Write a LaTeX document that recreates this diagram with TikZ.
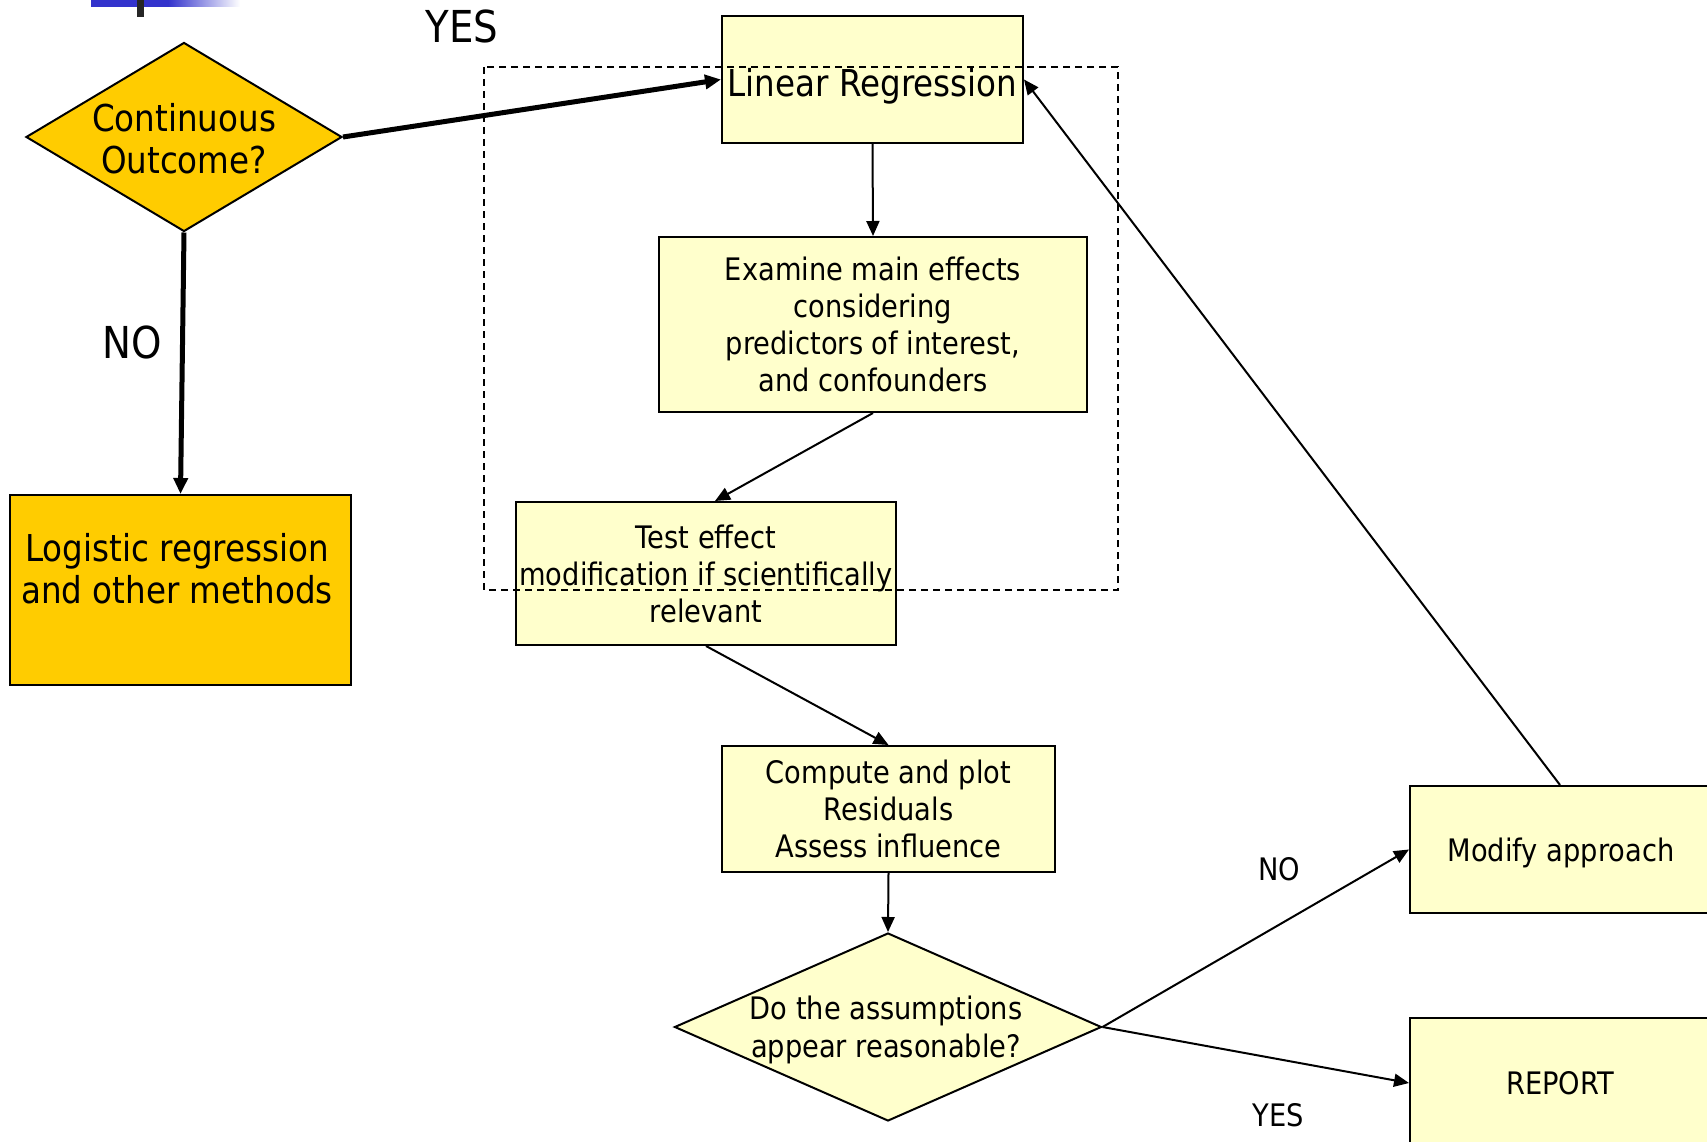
\documentclass[tikz,border=0pt]{standalone}
\usepackage{fontspec}
\setmainfont{DejaVu Sans}[FakeStretch=0.88]
\usetikzlibrary{shapes.geometric,arrows.meta}

\definecolor{gold}{HTML}{FFCC00}
\definecolor{paleyellow}{HTML}{FFFFCC}
\definecolor{barblue}{HTML}{3333CC}

\tikzset{
  box/.style={draw, line width=2pt, fill=paleyellow, align=center, inner sep=0pt,
    font=\fontsize{31}{37}\selectfont},
  dia/.style={draw, diamond, line width=2pt, inner sep=0pt},
  arr/.style={line width=2pt, -{Triangle[length=15pt,width=13pt]}},
  fat/.style={line width=5pt, -{Triangle[length=16pt,width=14pt]}},
  bigtxt/.style={font=\fontsize{37}{42}\selectfont, align=center},
  midtxt/.style={font=\fontsize{31}{38}\selectfont, align=center},
  hugetxt/.style={font=\fontsize{44}{50}\selectfont},
}

\begin{document}
\begin{tikzpicture}[x=1pt, y=-1pt]
  \useasboundingbox (0,0) rectangle (1707,1142);

  % Title bar
  \fill [barblue] (91,0) rectangle (168,7);
  \shade [left color=barblue, right color=white] (168,0) rectangle (240,7);
  \fill [black!85] (137,0) rectangle (144,17);

  % First decision
  \node [dia, fill=gold, minimum width=316, minimum height=189] (cont) at (184,137) {};
  \node [bigtxt] (conttxt) at (184,139) {Continuous\\Outcome?};
  \node [draw, line width=2pt, fill=gold, minimum width=341, minimum height=190] (logit) at (180.5,590) {};
  \node [bigtxt] (logittxt) at (177,569) {Logistic regression\\and other methods};

  % Linear model steps
  \node [box, minimum width=301, minimum height=127] (linreg) at (872.5,79.5) {};
  \node [bigtxt] (linregtxt) at (872.5,86) {Linear Regression};
  \node [box, minimum width=428, minimum height=175] (exam) at (873,324.5) {Examine main effects\\considering\\predictors of interest,\\and confounders};
  \node [box, minimum width=380, minimum height=143] (test) at (706,573.5) {Test effect\\modification if scientifically\\relevant};
  \node [box, minimum width=333, minimum height=126] (comp) at (888.5,809) {Compute and plot\\Residuals\\Assess influence};

  % Second decision
  \node [dia, fill=paleyellow, minimum width=427, minimum height=188] (assume) at (888,1027) {};
  \node [midtxt] (assumetxt) at (886,1030) {Do the assumptions\\appear reasonable?};
  \node [box, minimum width=300, minimum height=127] (modify) at (1560,849.5) {};
  \node [midtxt] (modifytxt) at (1561,853) {Modify approach};
  \node [box, minimum width=300, minimum height=130] (report) at (1560,1083) {REPORT};

  % Labels
  \node [hugetxt] (yestop) at (462,26) {YES};
  \node [hugetxt] (noleft) at (132,342) {NO};
  \node [midtxt] (noright) at (1279,869) {NO};
  \node [midtxt] (yesbottom) at (1278,1115) {YES};

  % Linear model frame
  \draw [line width=1.5pt, dash pattern=on 7pt off 5pt] (484,67) rectangle (1118,590);

  % Arrows
  \draw [fat] (cont.east) -- (linreg.west);
  \draw [fat] (cont.south) -- (logit.north);
  \draw [arr] (linreg.south) -- (exam.north);
  \draw [arr] (exam.south) -- ([xshift=9pt]test.north);
  \draw [arr] (test.south) -- (comp.north);
  \draw [arr] (comp.south) -- (assume.north);
  \draw [arr] (assume.east) -- (modify.west);
  \draw [arr] (assume.east) -- (report.west);
  \draw [arr] (modify.north) -- (linreg.east);
\end{tikzpicture}
\end{document}
